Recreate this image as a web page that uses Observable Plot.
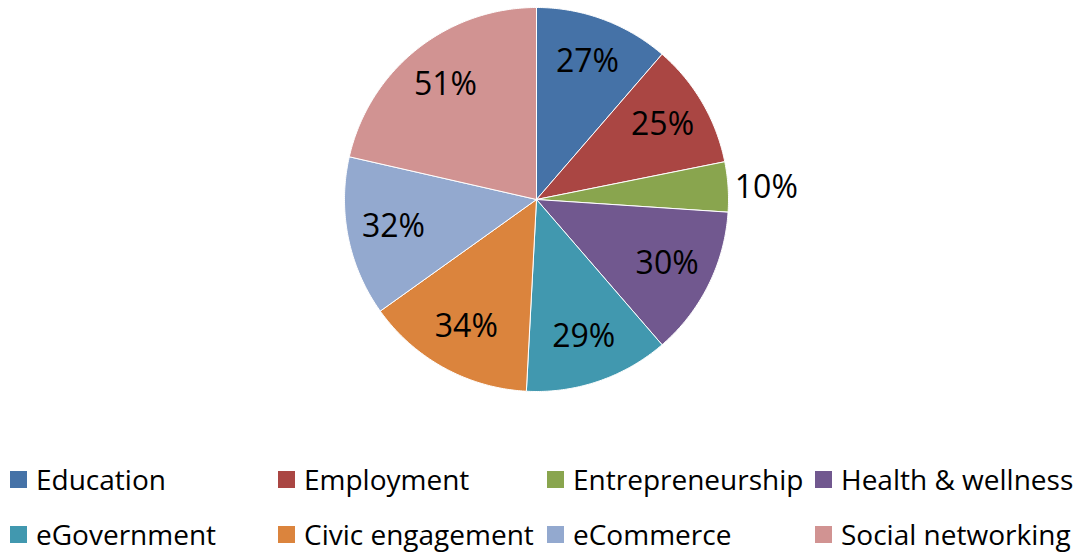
<!DOCTYPE html>
<html>
<head>
<meta charset="utf-8">
<script src="https://cdn.jsdelivr.net/npm/d3@7"></script>
<script src="https://cdn.jsdelivr.net/npm/@observablehq/plot@0.6"></script>
<style>
  body { margin: 0; background: #fff; font-family: "Open Sans", sans-serif; }
  #wrap { width: 1081px; height: 552px; position: relative; overflow: hidden; }
  #legend { position: relative; width: 1081px; height: 102px; }
  .item { position: absolute; display: flex; align-items: center; font-size: 28px; line-height: 1; color: #000; white-space: nowrap; transform: translateY(-50%); }
  .sw { width: 17px; height: 17px; margin-right: 9px; display: inline-block; }
</style>
</head>
<body>
<div id="wrap"><div id="chart"></div><div id="legend"></div></div>
<script>
const categories = ["Education", "Employment", "Entrepreneurship", "Health & wellness", "eGovernment", "Civic engagement", "eCommerce", "Social networking"];
const values = [27, 25, 10, 30, 29, 34, 32, 51];
const labels = ["27%", "25%", "10%", "30%", "29%", "34%", "32%", "51%"];
const colors = ["#4572A7", "#AA4643", "#89A54E", "#71588F", "#4198AF", "#DB843D", "#93A9CF", "#D19392"];

const total = d3.sum(values);
const slices = [];
const labelData = [];
let acc = 0;
categories.forEach((name, i) => {
  const a0 = acc / total * 2 * Math.PI;
  acc += values[i];
  const a1 = acc / total * 2 * Math.PI;
  slices.push({name, x: 0, y: 0});
  const n = Math.max(2, Math.ceil((a1 - a0) / 0.01));
  for (let k = 0; k <= n; k++) {
    const a = a0 + (a1 - a0) * k / n;
    slices.push({name, x: Math.sin(a), y: Math.cos(a)});
  }
  slices.push({name, x: 0, y: 0});
  const mid = (a0 + a1) / 2;
  const outside = values[i] / total < 0.06;
  const d = outside ? 1.035 : 0.76;
  labelData.push({name, label: labels[i], outside, x: d * Math.sin(mid), y: d * Math.cos(mid)});
});

const plot = Plot.plot({
  width: 1081,
  height: 450,
  margin: 0,
  style: {fontFamily: "'Open Sans', sans-serif", background: "#fff"},
  x: {domain: [-1, 1], range: [344, 728], axis: null},
  y: {domain: [-1, 1], range: [391, 7], axis: null},
  color: {domain: categories, range: colors},
  marks: [
    Plot.line(slices, {x: "x", y: "y", z: "name", fill: "name", stroke: "#fff", strokeWidth: 1, curve: "linear"}),
    Plot.text(labelData.filter(d => !d.outside), {x: "x", y: "y", text: "label", fontSize: 32, fill: "#000", dy: -1}),
    Plot.text(labelData.filter(d => d.outside), {x: "x", y: "y", text: "label", fontSize: 32, fill: "#000", textAnchor: "start", dy: 1})
  ]
});
document.getElementById("chart").appendChild(plot);

const lefts = [10, 278, 547, 815];
const tops = [29, 84];
const legend = document.getElementById("legend");
categories.forEach((name, i) => {
  const el = document.createElement("div");
  el.className = "item";
  el.style.left = lefts[i % 4] + "px";
  el.style.top = tops[Math.floor(i / 4)] + "px";
  const sw = document.createElement("span");
  sw.className = "sw";
  sw.style.background = colors[i];
  el.appendChild(sw);
  el.appendChild(document.createTextNode(name));
  legend.appendChild(el);
});
</script>
</body>
</html>
